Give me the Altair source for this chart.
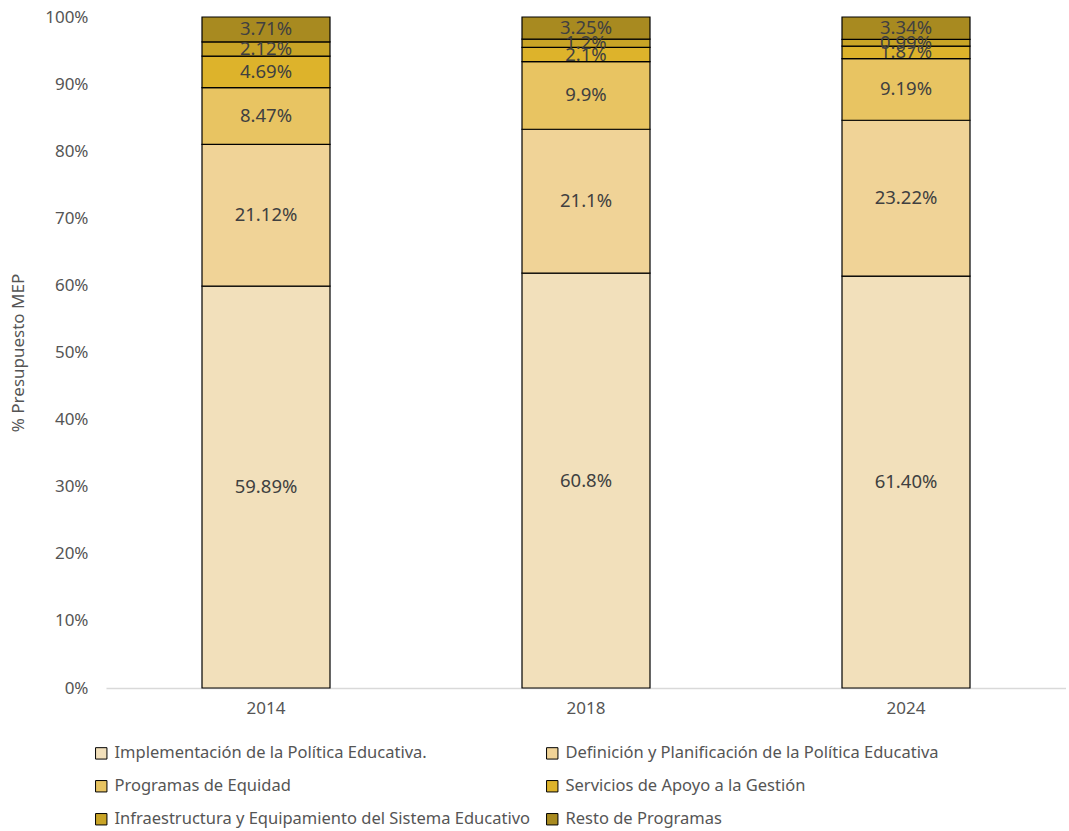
import altair as alt
import pandas as pd

years = ["2014", "2018", "2024"]
programs = [
    "Implementación de la Política Educativa.",
    "Definición y Planificación de la Política Educativa",
    "Programas de Equidad",
    "Servicios de Apoyo a la Gestión",
    "Infraestructura y Equipamiento del Sistema Educativo",
    "Resto de Programas",
]
colors = ["#F2E0BB", "#F0D397", "#E8C462", "#DDB32B", "#C9A426", "#A88A20"]

values = {
    "2014": [59.89, 21.12, 8.47, 4.69, 2.12, 3.71],
    "2018": [60.8, 21.1, 9.9, 2.1, 1.2, 3.25],
    "2024": [61.40, 23.22, 9.19, 1.87, 0.99, 3.34],
}
labels = {
    "2014": ["59.89%", "21.12%", "8.47%", "4.69%", "2.12%", "3.71%"],
    "2018": ["60.8%", "21.1%", "9.9%", "2.1%", "1.2%", "3.25%"],
    "2024": ["61.40%", "23.22%", "9.19%", "1.87%", "0.99%", "3.34%"],
}

rows = []
for y in years:
    for i, p in enumerate(programs):
        rows.append({"year": y, "program": p, "value": values[y][i],
                     "label": labels[y][i], "order": i})
df = pd.DataFrame(rows)

FONT = "Noto Sans"

base = alt.Chart(df).transform_stack(
    stack="value",
    groupby=["year"],
    as_=["y0", "y1"],
    offset="normalize",
    sort=[alt.SortField("order", order="ascending")],
)

xenc = alt.X("year:N", title=None,
             scale=alt.Scale(paddingInner=0.6, paddingOuter=0.3),
             axis=alt.Axis(labelAngle=0, ticks=False, labelFontSize=17,
                           labelColor="#555555", labelPadding=12,
                           domainColor="#D9D9D9", domainWidth=1.5,
                           labelFont=FONT))

bars = base.mark_bar(stroke="black", strokeWidth=1.2).encode(
    x=xenc,
    y=alt.Y("y0:Q", title="% Presupuesto MEP",
            scale=alt.Scale(domain=[0, 1], nice=False),
            axis=alt.Axis(format=".0%", values=[i / 10 for i in range(11)],
                          ticks=False, domain=False, grid=False,
                          labelFontSize=17, labelColor="#555555",
                          labelPadding=18, titleFontSize=17,
                          titleFontWeight="normal", titleColor="#555555",
                          titlePadding=17, labelFont=FONT, titleFont=FONT)),
    y2="y1:Q",
    color=alt.Color("program:N",
                    scale=alt.Scale(domain=programs, range=colors),
                    sort=programs,
                    legend=alt.Legend(title=None, orient="none",
                                      direction="horizontal",
                                      legendX=-13, legendY=728,
                                      columns=2, symbolType="square",
                                      symbolSize=130, symbolStrokeColor="black",
                                      symbolStrokeWidth=1, labelFontSize=16.5,
                                      labelColor="#555555", labelFont=FONT,
                                      rowPadding=16, columnPadding=13,
                                      labelOffset=5, labelLimit=600,
                                      symbolOpacity=1)),
    order=alt.Order("order:Q"),
)

text = base.transform_calculate(mid="(datum.y0 + datum.y1) / 2").mark_text(
    fontSize=18.5, color="#404040", font=FONT, baseline="middle"
).encode(
    x=alt.X("year:N"),
    y=alt.Y("mid:Q"),
    text="label:N",
)

chart = alt.layer(bars, text).properties(
    width=960, height=671,
    padding={"left": 9, "top": 8, "right": 0, "bottom": 5},
).configure_view(stroke=None)

chart.save("out.html", embed_options={"renderer": "svg", "actions": False})
